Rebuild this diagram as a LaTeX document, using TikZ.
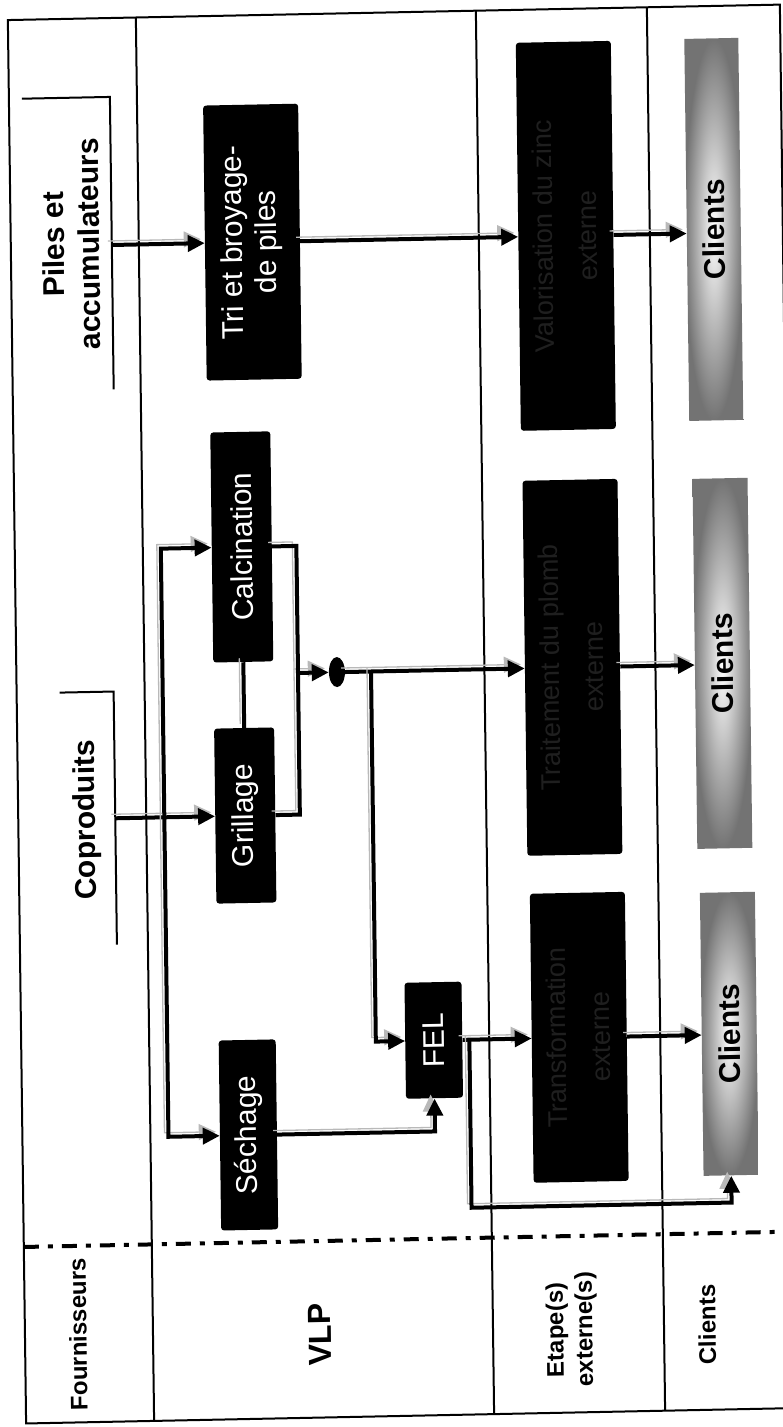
\documentclass[tikz,border=0pt]{standalone}
\usepackage{fontspec}
\setmainfont{Liberation Sans}
\usepackage{graphicx}
\usetikzlibrary{positioning,arrows.meta,shapes.geometric}

\begin{document}
\begin{tikzpicture}[x=1pt, y=-1pt,
  frame/.style={line width=2pt},
  bracket/.style={line width=2pt},
  proc/.style={fill=black, rounded corners=3pt, text=white, inner sep=0pt, font=\fontsize{30}{34}\selectfont},
  extproc/.style={proc, text=white!12!black, font=\fontsize{27}{44}\selectfont},
  client/.style={inner sep=0pt, shading=radial, inner color=white, outer color=black!55, font=\fontsize{30}{34}\selectfont\bfseries},
  lanelabel/.style={font=\fontsize{24}{29}\selectfont\bfseries},
  source/.style={font=\fontsize{30}{35}\selectfont\bfseries},
  link/.style={line width=4pt, preaction={draw=gray!55, line width=1.3pt, transform canvas={shift={(-4pt,4pt)}}}},
  flow/.style={link, -{Triangle[length=17pt,width=16pt]}}]
\useasboundingbox (0,0) rectangle (782,1427);
\begin{scope}[cm={1,0.02,-0.013,1,(-9.3pt,-7.8pt)}, transform shape]
% lanes
\draw[frame] (17,12.6) rectangle (789,1416);
\draw[frame] (145,12.6) -- (145,1416);
\draw[frame] (485,12.6) -- (485,1416);
\draw[frame] (656,12.6) -- (656,1416);
\draw[line width=4pt, dash pattern=on 15pt off 9pt on 5pt off 9pt] (17,1239.5) -- (789,1239.5);
\node[lanelabel] (lfour) at (70,1328) {\rotatebox{90}{Fournisseurs}};
\node[lanelabel, font=\fontsize{32}{36}\selectfont\bfseries] (lvlp) at (312,1333) {\rotatebox{90}{VLP}};
\node[lanelabel] (lext) at (564,1333) {\rotatebox{90}{\begin{tabular}{@{}c@{}}Etape(s)\\externe(s)\end{tabular}}};
\node[lanelabel] (lcli) at (699,1331) {\rotatebox{90}{Clients}};

% suppliers
\node[source] (piles) at (81,238) {\rotatebox{90}{\begin{tabular}{@{}c@{}}Piles et\\accumulateurs\end{tabular}}};
\draw[bracket] (30,91.5) -| (118,384);
\coordinate (pilesout) at (118,239.5);
\node[source] (copro) at (86,814) {\rotatebox{90}{Coproduits}};
\draw[bracket] (60,686) -| (114,939);
\coordinate (coproout) at (114,812.6);

% VLP
\node[proc, minimum width=95pt, minimum height=275pt] (tri) at (258.6,239.5) {\rotatebox{90}{\begin{tabular}{@{}c@{}}Tri et broyage-\\de piles\end{tabular}}};
\node[proc, minimum width=60pt, minimum height=230pt] (calc) at (244,544) {\rotatebox{90}{Calcination}};
\node[proc, minimum width=60pt, minimum height=175pt] (gril) at (244,812.6) {\rotatebox{90}{Grillage}};
\node[proc, minimum width=57pt, minimum height=190pt] (sech) at (243,1132) {\rotatebox{90}{Séchage}};
\node[proc, minimum width=57pt, minimum height=116pt] (fel) at (429.5,1041) {\rotatebox{90}{FEL}};
\node[ellipse, fill=black, minimum width=16pt, minimum height=30pt, inner sep=0pt] (junc) at (337.5,671) {};

% external steps
\node[extproc, minimum width=95pt, minimum height=388pt] (ext1) at (572,239.5) {\rotatebox{90}{\begin{tabular}{@{}c@{}}Valorisation du zinc\\externe\end{tabular}}};
\node[extproc, minimum width=95pt, minimum height=375pt] (ext2) at (573,671) {\rotatebox{90}{\begin{tabular}{@{}c@{}}Traitement du plomb\\externe\end{tabular}}};
\node[extproc, minimum width=95pt, minimum height=289pt] (ext3) at (575,1041) {\rotatebox{90}{\begin{tabular}{@{}c@{}}Transformation\\externe\end{tabular}}};

% clients
\node[client, minimum width=54pt, minimum height=382pt] (cli1) at (720,236) {\rotatebox{90}{Clients}};
\node[client, minimum width=55pt, minimum height=370pt] (cli2) at (723,670) {\rotatebox{90}{Clients}};
\node[client, minimum width=55pt, minimum height=283pt] (cli3) at (725,1040.5) {\rotatebox{90}{Clients}};

% flows
\draw[flow] (pilesout) -- (tri.west);
\draw[flow] (tri.east) -- (ext1.west);
\draw[flow] (ext1.east) -- (ext1.east -| cli1.west);
\draw[flow] (coproout) -- (gril.west);
\coordinate (dist) at (163,812.6);
\draw[flow] (dist) |- (calc.west);
\draw[flow] (dist) |- (sech.west);
\draw[link] (calc.south) -- (gril.north);
\coordinate (merge) at (298.5,671);
\draw[link] (gril.east) -| (merge);
\draw[flow] (calc.east) -| (merge) -- (junc.west);
\draw[flow] (junc.east) -- (junc.east -| ext2.west);
\draw[flow] (ext2.east) -- (ext2.east -| cli2.west);
\coordinate (tofel) at (371.5,671);
\draw[flow] (tofel) |- (fel.west);
\draw[flow] (sech.east) -| (fel.south);
\draw[flow] (fel.east) -- (fel.east -| ext3.west);
\draw[flow] (ext3.east) -- (ext3.east -| cli3.west);
\coordinate (bypass) at (465,1209);
\draw[flow] (bypass |- fel.east) -- (bypass) -| (cli3.south);
\end{scope}
\end{tikzpicture}
\end{document}
